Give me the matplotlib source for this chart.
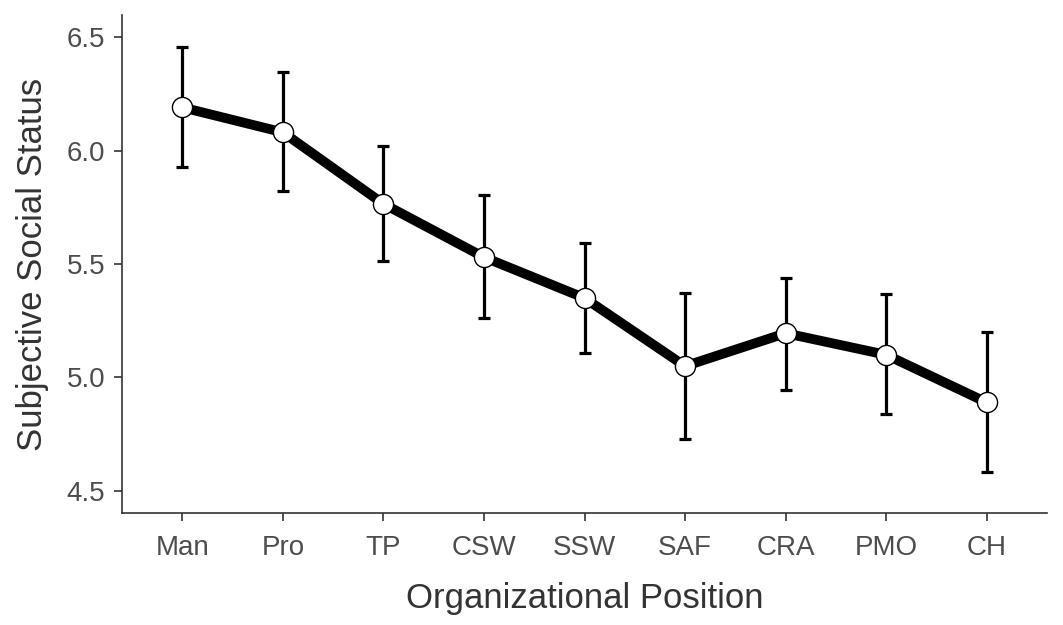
import numpy as np
from matplotlib import pyplot as plt

positions = ['Man', 'Pro', 'TP', 'CSW', 'SSW', 'SAF', 'CRA', 'PMO', 'CH']
status_mean = [6.19, 6.08, 5.765, 5.53, 5.35, 5.05, 5.195, 5.10, 4.89]
ci_upper = [6.456, 6.345, 6.021, 5.802, 5.593, 5.372, 5.437, 5.366, 5.20]
ci_lower = [5.927, 5.82, 5.512, 5.26, 5.108, 4.728, 4.944, 4.838, 4.585]

plt.rcParams['font.family'] = ['Liberation Sans', 'DejaVu Sans']

x = np.arange(1, len(positions) + 1)
mean = np.array(status_mean)
yerr = [mean - np.array(ci_lower), np.array(ci_upper) - mean]

fig = plt.figure(figsize=(10.63, 6.25), dpi=100)
ax = fig.add_axes([122 / 1063, 112 / 625, 925 / 1063, 498 / 625])

ax.errorbar(x, mean, yerr=yerr, fmt='none', ecolor='black', elinewidth=2.3,
            capsize=4, capthick=2.3, zorder=2)
ax.plot(x, mean, color='black', linewidth=7, zorder=3)
ax.plot(x, mean, 'o', markersize=14.5, markerfacecolor='white',
        markeredgecolor='black', markeredgewidth=1, zorder=4)

ax.set_xlim(0.4, 9.6)
ax.set_ylim(4.403, 6.597)
ax.set_xticks(x)
ax.set_xticklabels(positions)
ax.set_yticks([4.5, 5.0, 5.5, 6.0, 6.5])
ax.set_yticklabels(['4.5', '5.0', '5.5', '6.0', '6.5'])

for side in ['top', 'right']:
    ax.spines[side].set_visible(False)
for side in ['left', 'bottom']:
    ax.spines[side].set_color('#333333')
    ax.spines[side].set_linewidth(1.2)

ax.tick_params(axis='both', colors='#333333', labelcolor='#4d4d4d',
               labelsize=20, length=6, width=1.2)
ax.tick_params(axis='x', pad=10)
ax.tick_params(axis='y', pad=6)
ax.set_xlabel('Organizational Position', fontsize=25, color='#333333', labelpad=15)
ax.set_ylabel('Subjective Social Status', fontsize=25, color='#333333', labelpad=13)

fig.savefig('out.png', dpi=100)
